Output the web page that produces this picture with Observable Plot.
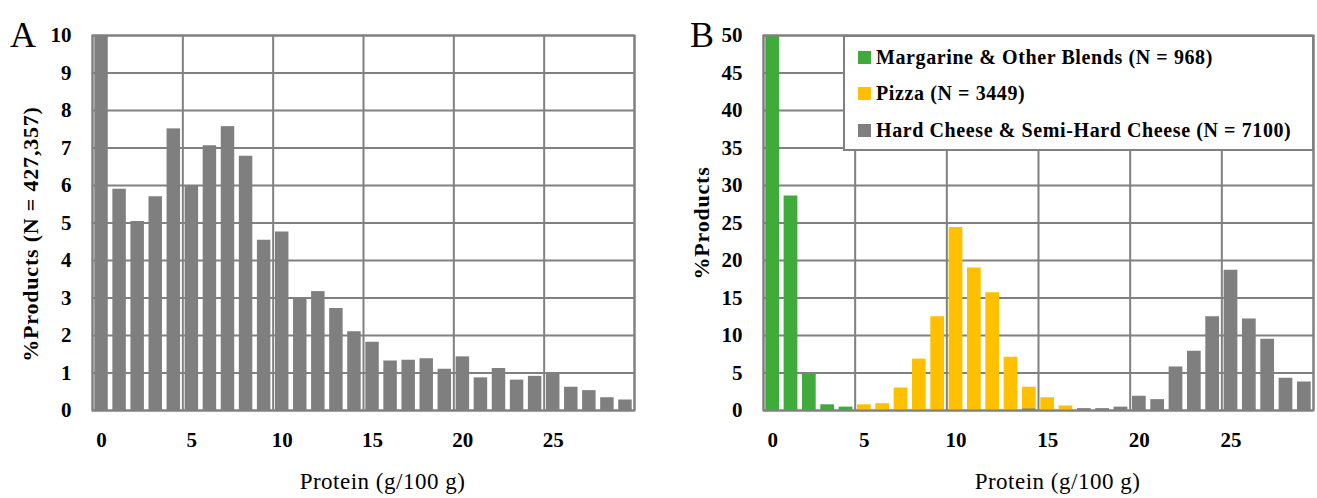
<!DOCTYPE html>
<html>
<head>
<meta charset="utf-8">
<script src="https://cdn.jsdelivr.net/npm/d3@7"></script>
<script src="https://cdn.jsdelivr.net/npm/@observablehq/plot@0.6"></script>
<style>
  html, body { margin: 0; padding: 0; background: #fff; }
  #wrap { position: relative; width: 1317px; height: 498px; overflow: hidden; font-family: "Liberation Serif", serif; }
  .panel { position: absolute; top: 0; }
  .letter { position: absolute; font-size: 36px; font-family: "Liberation Serif", serif; color: #000; line-height: 1; }
  #legend { position: absolute; background: #fff; border: 2px solid #808080; box-sizing: border-box;
            font-family: "Liberation Serif", serif; font-weight: bold; font-size: 20px; letter-spacing: 0.6px; color: #000; padding: 2px 0 0 13px; }
  #legend .row { display: flex; align-items: center; height: 36.5px; white-space: nowrap; }
  #legend .sw { width: 13px; height: 13px; margin-right: 5px; flex: none; }
</style>
</head>
<body>
<div id="wrap"></div>
<script>
// ---- Data ----
const bins = [0,1,2,3,4,5,6,7,8,9,10,11,12,13,14,15,16,17,18,19,20,21,22,23,24,25,26,27,28,29];
const xTicks = [0, 5, 10, 15, 20, 25];
const yTicksA = [0,1,2,3,4,5,6,7,8,9,10];
const yTicksB = [0,5,10,15,20,25,30,35,40,45,50];

// Panel A: all products (% of products per 1 g protein bin)
const allProducts = [10.0, 5.90, 5.04, 5.70, 7.51, 5.98, 7.06, 7.57, 6.78, 4.54,
                     4.76, 2.98, 3.17, 2.72, 2.10, 1.82, 1.32, 1.34, 1.38, 1.10,
                     1.43, 0.87, 1.12, 0.81, 0.91, 0.96, 0.62, 0.53, 0.34, 0.28];

// Panel B: three categories
const seriesNames = ["Margarine & Other Blends (N = 968)", "Pizza (N = 3449)", "Hard Cheese & Semi-Hard Cheese (N = 7100)"];
const seriesColors = ["#3fab3a", "#ffc000", "#7f7f7f"];
const margarine = [50.0, 28.6, 4.83, 0.76, 0.45, 0, 0, 0, 0, 0,
                   0, 0, 0, 0, 0, 0, 0, 0, 0, 0,
                   0, 0, 0, 0, 0, 0, 0, 0, 0, 0];
const pizza     = [0, 0, 0, 0, 0, 0.76, 0.9, 3.0, 6.85, 12.5,
                   24.4, 19.0, 15.7, 7.1, 3.1, 1.7, 0.6, 0, 0, 0,
                   0, 0, 0, 0, 0, 0, 0, 0, 0, 0];
const cheese    = [0, 0, 0, 0, 0, 0, 0, 0, 0, 0,
                   0, 0, 0, 0, 0.2, 0, 0, 0.25, 0.25, 0.45,
                   1.9, 1.45, 5.8, 7.9, 12.5, 18.7, 12.2, 9.5, 4.3, 3.8];

const xLabel = "Protein (g/100 g)";
const yLabelA = "%Products (N = 427,357)";
const yLabelB = "%Products";

// ---- Build ----
const dataA = bins.map((b, i) => ({bin: b, v: allProducts[i]}));
const dataB = [margarine, pizza, cheese].flatMap((arr, s) =>
  bins.map((b, i) => ({bin: b, v: arr[i], s: seriesNames[s]}))).filter(d => d.v > 0);
const gridX = xTicks.map(t => t - 0.5).concat([bins[bins.length - 1] + 0.5]);

function panel({data, yTicks, yLabel, width, marginLeft, marginRight, fillSpec, yLabelDy}) {
  return Plot.plot({
    width, height: 498,
    marginLeft, marginRight, marginTop: 35, marginBottom: 88,
    style: {fontFamily: "Liberation Serif, serif", fontSize: "21px", fontWeight: "bold", color: "#000", background: "transparent"},
    x: {domain: [bins[0] - 0.5, bins[bins.length - 1] + 0.5]},
    y: {domain: [yTicks[0], yTicks[yTicks.length - 1]]},
    color: {domain: seriesNames, range: seriesColors},
    marks: [
      Plot.ruleY(yTicks, {stroke: "#808080", strokeWidth: 2}),
      Plot.ruleX(gridX, {stroke: "#808080", strokeWidth: 2}),
      Plot.rectY(data, {x1: d => d.bin - 0.5, x2: d => d.bin + 0.5, y1: 0, y2: "v", fill: fillSpec, insetLeft: 2.3, insetRight: 2.3, clip: true}),
      Plot.frame({stroke: "#808080", strokeWidth: 2}),
      Plot.axisX(xTicks, {tickSize: 0, tickPadding: 22, label: null, fontWeight: "bold", fontSize: 21}),
      Plot.axisY(yTicks, {tickSize: 0, tickPadding: 21, label: null, fontWeight: "bold", fontSize: 21}),
      Plot.text([xLabel], {frameAnchor: "bottom", dy: 71, dx: 19, fontWeight: "normal", fontSize: 23, textAnchor: "middle", lineAnchor: "middle", style: "letter-spacing:0.4px"}),
      Plot.text([yLabel], {frameAnchor: "left", rotate: -90, dx: -62, dy: yLabelDy, fontWeight: "bold", fontSize: 22, textAnchor: "middle", lineAnchor: "middle"})
    ]
  });
}

const wrap = document.getElementById("wrap");

const pA = panel({data: dataA, yTicks: yTicksA, yLabel: yLabelA, width: 650, marginLeft: 92, marginRight: 16, fillSpec: "#7f7f7f", yLabelDy: 11});
pA.classList.add("panel"); pA.style.left = "0px";
wrap.appendChild(pA);

const pB = panel({data: dataB, yTicks: yTicksB, yLabel: yLabelB, width: 646, marginLeft: 92, marginRight: 4, fillSpec: "s", yLabelDy: 0});
pB.classList.add("panel"); pB.style.left = "671px";
wrap.appendChild(pB);

// letter-spacing on the rotated / axis titles
wrap.querySelectorAll("svg text").forEach(t => {
  if (t.textContent === xLabel) t.style.letterSpacing = "0.5px";
  if (t.textContent === yLabelA || t.textContent === yLabelB) t.style.letterSpacing = "0.8px";
});

// Panel letters
[["A", 10], ["B", 690]].forEach(([t, x]) => {
  const d = document.createElement("div");
  d.className = "letter"; d.textContent = t; d.style.left = x + "px"; d.style.top = "17px";
  wrap.appendChild(d);
});

// Legend (inside panel B)
const lg = document.createElement("div");
lg.id = "legend";
lg.style.left = "843px"; lg.style.top = "35px"; lg.style.width = "471px"; lg.style.height = "116px";
seriesNames.forEach((n, i) => {
  const r = document.createElement("div"); r.className = "row";
  const sw = document.createElement("div"); sw.className = "sw"; sw.style.background = seriesColors[i];
  const tx = document.createElement("span"); tx.textContent = n;
  r.appendChild(sw); r.appendChild(tx); lg.appendChild(r);
});
wrap.appendChild(lg);
</script>
</body>
</html>
